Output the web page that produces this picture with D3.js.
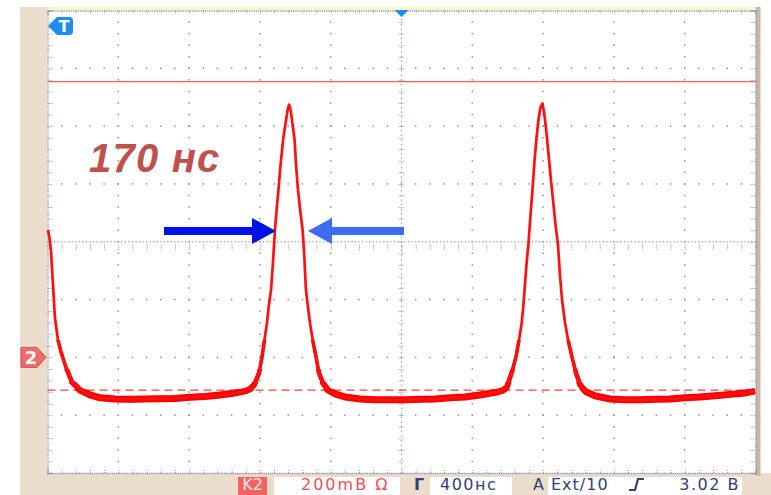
<!DOCTYPE html>
<html><head><meta charset="utf-8">
<script src="https://cdn.jsdelivr.net/npm/d3@7"></script>
<style>html,body{margin:0;padding:0;background:#fff;}svg{display:block;}</style>
</head><body>
<svg id="c" width="771" height="495"></svg>
<script>
// ---- data (time in ns, voltage in mV, channel 2: 200 mV/div, 400 ns/div) ----
const times = [3,11,20,31,42,59,76,105,138,184,240,297,381,466,551,636,720,805,890,975,1059,1116,1144,1167,
1184,1195,1212,1226,1240,1251,1263,1274,1285,1297,1305,1314,1331,1348,1359,1365,1373,1381,1396,1404,1415,1427,1441,1449,1460,1472,1483,1500,1517,1534,1556,1585,1624,1681,
1766,1850,1935,2020,2105,2189,2274,2359,2443,2528,2574,2596,2607,
2624,2647,2664,2679,2689,2695,2706,2718,2729,2740,2752,2763,2774,2785,2796,2805,2816,2828,2844,2856,2870,2884,2895,2907,2924,2941,2963,2986,3009,3043,3094,
3178,3263,3347,3432,3517,3602,3686,3771,3856,3941,3997];
const volts = [441,414,365,251,137,61,19,-36,-85,-113,-130,-140,-144,-145,-144,-143,-142,-138,-135,-130,-123,-116,-109,-95,
-71,-54,2,61,119,182,234,330,442,528,580,649,753,823,864,874,857,823,753,667,580,511,442,372,234,171,119,54,2,-54,-88,-113,-126,-137,
-144,-147,-147,-147,-145,-144,-140,-137,-130,-121,-113,-102,-81,
-50,2,61,119,182,234,320,400,493,580,684,760,823,864,878,850,795,719,615,545,459,390,286,199,119,61,2,-54,-95,-119,-133,
-144,-147,-147,-145,-144,-140,-137,-133,-128,-123,-116];
const timeMajor = [0,400,800,1200,1600,2000,2400,2800,3200,3600,4000];
const voltMajor = [-400,-200,0,200,400,600,800,1000,1200];
const levelLine = 954;     // solid red reference line (mV)
const baseLine = -113;     // dashed red line (mV)
const chGround = 0;        // channel 2 marker (mV)
const widthLabel = "170 нс";
const statusTexts = {ch:"K2", scale:"200mB Ω", tb:"400нс", trig:"Ext/10", lvl:"3.02 B"};

// ---- layout ----
const svg = d3.select("#c");
const L = 47.5, R = 755.5, T = 10.5, B = 473;
const x = d3.scaleLinear().domain([0,4000]).range([L,R]);
const y = d3.scaleLinear().domain([-400,1200]).range([B,T]);
const gridCol = "#8d92b4";

// backgrounds
svg.append("rect").attr("x",20).attr("y",7).attr("width",L-20).attr("height",495-7).attr("fill","#ecdccb");
svg.append("rect").attr("x",20).attr("y",B).attr("width",771-20).attr("height",495-B).attr("fill","#ecdccb");
svg.append("rect").attr("x",R).attr("y",7).attr("width",5).attr("height",B-7+3).attr("fill","#c9b6a4");
svg.append("rect").attr("x",L).attr("y",7).attr("width",R-L).attr("height",3.5).attr("fill","#fbf6c8");
svg.append("rect").attr("x",L).attr("y",T).attr("width",R-L).attr("height",B-T).attr("fill","#ffffff");

const g = svg.append("g");
const tMinor = d3.range(0,4000.1,80);
const vMinor = d3.range(-400,1200.1,40);
const tFine = d3.range(0,4000.1,20);
const vFine = d3.range(-400,1200.1,16);

// interior major grid: dots
timeMajor.filter(t=>t>0&&t<4000&&t!==2000).forEach(t=>{
  g.selectAll(null).data(vMinor.filter(v=>v>-400&&v<1200)).join("rect")
   .attr("x",x(t)-0.75).attr("y",v=>y(v)-0.75).attr("width",1.5).attr("height",1.5).attr("fill",gridCol);
});
voltMajor.filter(v=>v>-400&&v<1200&&v!==400).forEach(v=>{
  g.selectAll(null).data(tMinor.filter(t=>t>0&&t<4000)).join("rect")
   .attr("x",t=>x(t)-0.75).attr("y",y(v)-0.75).attr("width",1.5).attr("height",1.5).attr("fill",gridCol);
});
// center axes: fine dotted + cross ticks
g.selectAll(null).data(tFine).join("rect")
  .attr("x",t=>x(t)-0.6).attr("y",y(400)-0.6).attr("width",1.2).attr("height",1.2).attr("fill",gridCol);
g.selectAll(null).data(vFine).join("rect")
  .attr("x",x(2000)-0.6).attr("y",v=>y(v)-0.6).attr("width",1.2).attr("height",1.2).attr("fill",gridCol);
const cx = g.append("g").attr("transform",`translate(0,${y(400)+3})`)
  .call(d3.axisBottom(x).tickValues(tMinor).tickSize(6).tickFormat(""));
const cy = g.append("g").attr("transform",`translate(${x(2000)-3},0)`)
  .call(d3.axisRight(y).tickValues(vMinor).tickSize(6).tickFormat(""));
[cx,cy].forEach(a=>{a.select(".domain").remove();a.selectAll("line").attr("stroke",gridCol).attr("stroke-width",1).attr("stroke-dasharray","1 1");});

// frame edges with ticks
const edges = [
  g.append("g").attr("transform",`translate(0,${T})`).call(d3.axisBottom(x).tickValues(tMinor).tickSize(4).tickFormat("")),
  g.append("g").attr("transform",`translate(0,${B})`).call(d3.axisTop(x).tickValues(tMinor).tickSize(4).tickFormat("")),
  g.append("g").attr("transform",`translate(${L},0)`).call(d3.axisRight(y).tickValues(vMinor).tickSize(5).tickFormat("")),
  g.append("g").attr("transform",`translate(${R},0)`).call(d3.axisLeft(y).tickValues(vMinor).tickSize(5).tickFormat(""))
];
edges.forEach(a=>{
  a.select(".domain").attr("stroke",gridCol).attr("stroke-width",1.3).attr("stroke-dasharray","1.2 1");
  a.selectAll("line").attr("stroke",gridCol).attr("stroke-width",1).attr("stroke-dasharray","1 1");
});

// reference lines
svg.append("line").attr("x1",L).attr("x2",R).attr("y1",y(levelLine)).attr("y2",y(levelLine))
  .attr("stroke","#ff5a5a").attr("stroke-width",1.4);
svg.append("line").attr("x1",L).attr("x2",R).attr("y1",y(baseLine)).attr("y2",y(baseLine))
  .attr("stroke","#ff4040").attr("stroke-width",1.2).attr("stroke-dasharray","8 5");

// trace: thicker (noisier) band near the baseline, thin line on the pulses
const pts = times.map((t,i)=>[t,volts[i]]);
const line = d3.line().x(d=>x(d[0])).y(d=>y(d[1]));
const layers = [{lim:60,w:3.6},{lim:-40,w:4.6},{lim:-85,w:5.8},{lim:-110,w:7}];
layers.forEach((ly,i)=>{
  svg.append("clipPath").attr("id","clip"+i).append("rect")
    .attr("x",L).attr("y",y(ly.lim)).attr("width",R-L).attr("height",B-y(ly.lim));
  svg.append("path").datum(pts).attr("d",line).attr("fill","none").attr("stroke","#ff0000")
    .attr("stroke-width",ly.w).attr("stroke-linejoin","round").attr("clip-path",`url(#clip${i})`);
});
svg.append("path").datum(pts).attr("d",line).attr("fill","none").attr("stroke","#ff1010")
  .attr("stroke-width",2.7).attr("stroke-linejoin","round");

// markers
svg.append("path").attr("d",`M21,${y(chGround)-10} L37,${y(chGround)-10} L46,${y(chGround)} L37,${y(chGround)+10} L21,${y(chGround)+10} Z`)
  .attr("fill","#f46a6a").attr("stroke","#c05858").attr("stroke-width",1);
svg.append("text").attr("x",31).attr("y",y(chGround)+7).attr("text-anchor","middle")
  .attr("font-family","DejaVu Sans").attr("font-weight","bold").attr("font-size",18).attr("fill","#fff").text("2");
svg.append("path").attr("d","M48,26 L57,17 L69,17 Q73,17 73,21 L73,31 Q73,35 69,35 L57,35 Z").attr("fill","#1e8cf0");
svg.append("text").attr("x",64).attr("y",32).attr("text-anchor","middle")
  .attr("font-family","DejaVu Sans").attr("font-weight","bold").attr("font-size",16).attr("fill","#fff").text("T");
svg.append("path").attr("d",`M${x(2000)-7},10 L${x(2000)+7},10 L${x(2000)},17 Z`).attr("fill","#1e8cf0");

// arrows
function arrow(x0,x1,col){
  const dir = Math.sign(x1-x0), hb = x1 - dir*24, yc = 231;
  svg.append("path").attr("d",`M${x0},${yc-4} L${hb},${yc-4} L${hb},${yc-13} L${x1},${yc} L${hb},${yc+13} L${hb},${yc+4} L${x0},${yc+4} Z`).attr("fill",col);
}
arrow(164,276,"#0010e8");
arrow(404,308,"#3b6cf2");

// label
svg.append("text").attr("x",89).attr("y",172).attr("font-family","Liberation Sans, Arial, sans-serif")
  .attr("font-weight","bold").attr("font-style","italic").attr("font-size",40).attr("letter-spacing",1.2)
  .attr("fill","#c0504d").text(widthLabel);

// status bar
const sb = svg.append("g").attr("font-family","DejaVu Sans").attr("font-size",16);
const by = 490;
sb.append("rect").attr("x",238).attr("y",477).attr("width",29).attr("height",18).attr("fill","#f06464");
sb.append("text").attr("x",252.5).attr("y",by).attr("text-anchor","middle").attr("fill","#ffe4e4").text(statusTexts.ch);
sb.append("rect").attr("x",274).attr("y",477).attr("width",126).attr("height",18).attr("fill","#fff");
sb.append("text").attr("x",301).attr("y",by).attr("fill","#f05050").attr("letter-spacing",2).text(statusTexts.scale);
sb.append("text").attr("x",414).attr("y",by).attr("fill","#34407c").attr("font-weight","bold").text("Γ");
sb.append("rect").attr("x",430).attr("y",477).attr("width",82).attr("height",18).attr("fill","#fff");
sb.append("text").attr("x",440).attr("y",by).attr("fill","#34407c").attr("letter-spacing",1.5).text(statusTexts.tb);
sb.append("text").attr("x",533).attr("y",by).attr("fill","#34407c").text("A");
sb.append("rect").attr("x",548).attr("y",477).attr("width",194).attr("height",18).attr("fill","#fff");
sb.append("text").attr("x",551).attr("y",by).attr("fill","#34407c").attr("letter-spacing",1).text(statusTexts.trig);
sb.append("path").attr("d","M629,490 L635,490 L638,479 L644,479").attr("fill","none").attr("stroke","#34407c").attr("stroke-width",2.2);
sb.append("text").attr("x",740).attr("y",by).attr("text-anchor","end").attr("fill","#34407c").attr("letter-spacing",1.5).text(statusTexts.lvl);
</script>
</body></html>
